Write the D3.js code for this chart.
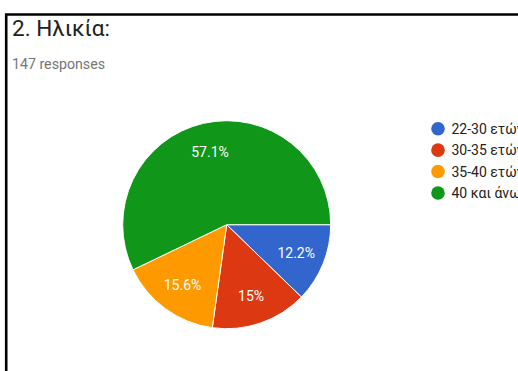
<!DOCTYPE html>
<html>
<head>
<meta charset="utf-8">
<script src="https://cdn.jsdelivr.net/npm/d3@7"></script>
<style>
  html, body { margin: 0; padding: 0; background: #fff; }
  svg { display: block; font-family: Roboto, Arial, sans-serif; }
</style>
</head>
<body>
<svg id="chart" width="518" height="371"></svg>
<script>
// Age groups of respondents and their response counts
const categories = ["22-30 ετών", "30-35 ετών", "35-40 ετών", "40 και άνω"];
const counts = [18, 22, 23, 84];
const percentLabels = ["12.2%", "15%", "15.6%", "57.1%"];
const colors = ["#3366cc", "#dc3912", "#ff9900", "#109618"];
const title = "2. Ηλικία:";
const subtitle = "147 responses";

const svg = d3.select("#chart");
const W = 518, H = 371;

// frame lines (top and left)
svg.append("path")
  .attr("d", `M6.2,${H} V14.5 H${W}`)
  .attr("fill", "none")
  .attr("stroke", "#000")
  .attr("stroke-width", 2.6);

svg.append("text")
  .attr("x", 12).attr("y", 35.5)
  .attr("font-size", 22.5)
  .attr("fill", "#212121")
  .text(title);

svg.append("text")
  .attr("x", 12).attr("y", 69)
  .attr("font-size", 14.2)
  .attr("fill", "#757575")
  .text(subtitle);

// pie
const cx = 226.7, cy = 224.7, R = 104;
const color = d3.scaleOrdinal().domain(categories).range(colors);

const pie = d3.pie()
  .value(d => d.count)
  .sort(null)
  .startAngle(Math.PI / 2)
  .endAngle(Math.PI / 2 + 2 * Math.PI);

const data = categories.map((c, i) => ({ cat: c, count: counts[i], label: percentLabels[i] }));
const arcs = pie(data);

const arc = d3.arc().innerRadius(0).outerRadius(R);
const labelArc = d3.arc().innerRadius(75).outerRadius(75);

const g = svg.append("g").attr("transform", `translate(${cx},${cy})`);

g.selectAll("path.slice")
  .data(arcs)
  .join("path")
  .attr("class", "slice")
  .attr("d", arc)
  .attr("fill", d => color(d.data.cat))
  .attr("stroke", "#fff")
  .attr("stroke-width", 1);

g.selectAll("text.pct")
  .data(arcs)
  .join("text")
  .attr("class", "pct")
  .attr("transform", d => `translate(${labelArc.centroid(d)})`)
  .attr("text-anchor", "middle")
  .attr("dy", "0.36em")
  .attr("font-size", 14)
  .attr("fill", "#fff")
  .text(d => d.data.label);

// legend (the labels run past the right edge of the panel)
const legendY = d3.scalePoint().domain(categories).range([128.7, 193]);
const legend = svg.append("g");
const items = legend.selectAll("g")
  .data(categories)
  .join("g")
  .attr("transform", d => `translate(438,${legendY(d)})`);

items.append("circle")
  .attr("r", 6.8)
  .attr("fill", d => color(d));

items.append("text")
  .attr("x", 13.5)
  .attr("dy", "0.36em")
  .attr("font-size", 14)
  .attr("fill", "#222")
  .text(d => d);
</script>
</body>
</html>
